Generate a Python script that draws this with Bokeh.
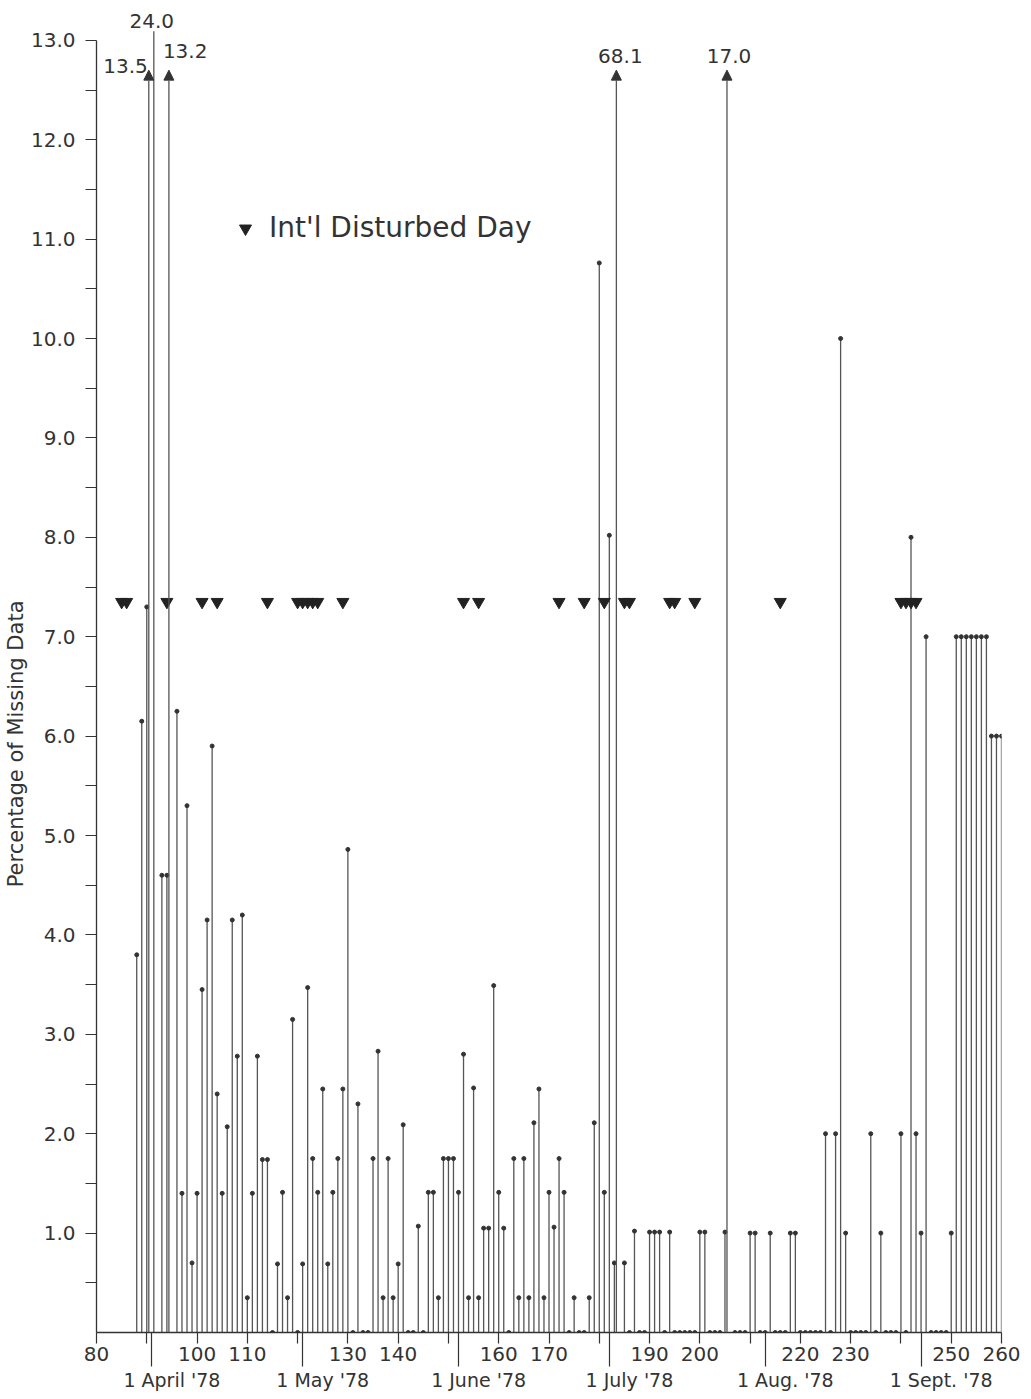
from bokeh.plotting import figure
from bokeh.models import (ColumnDataSource, FixedTicker, LinearAxis, Range1d,
                          Arrow, NormalHead, Legend, LegendItem)
from bokeh.embed import file_html
from bokeh.resources import INLINE
from bokeh.core.properties import value, field

# ---------------- data ----------------
first_day = 88   # day of year of the first plotted value
pct_missing = [
    3.80, 6.15, 7.30, 13.5, 24.0, 4.60, 4.60, 13.2, 6.25, 1.40,    # 88-97
    5.30, 0.70, 1.40, 3.45, 4.15, 5.90, 2.40, 1.40, 2.07, 4.15,    # 98-107
    2.78, 4.20, 0.35, 1.40, 2.78, 1.74, 1.74, 0.00, 0.69, 1.41,    # 108-117
    0.35, 3.15, 0.00, 0.69, 3.47, 1.75, 1.41, 2.45, 0.69, 1.41,    # 118-127
    1.75, 2.45, 4.86, 0.00, 2.30, 0.00, 0.00, 1.75, 2.83, 0.35,    # 128-137
    1.75, 0.35, 0.69, 2.09, 0.00, 0.00, 1.07, 0.00, 1.41, 1.41,    # 138-147
    0.35, 1.75, 1.75, 1.75, 1.41, 2.80, 0.35, 2.46, 0.35, 1.05,    # 148-157
    1.05, 3.49, 1.41, 1.05, 0.00, 1.75, 0.35, 1.75, 0.35, 2.11,    # 158-167
    2.45, 0.35, 1.41, 1.06, 1.75, 1.41, 0.00, 0.35, 0.00, 0.00,    # 168-177
    0.35, 2.11, 10.76, 1.41, 8.02, 0.70, 68.1, 0.70, 0.00, 1.02,   # 178-187
    0.00, 0.00, 1.01, 1.01, 1.01, 0.00, 1.01, 0.00, 0.00, 0.00,    # 188-197
    0.00, 0.00, 1.01, 1.01, 0.00, 0.00, 0.00, 1.01, 17.0, 0.00,    # 198-207
    0.00, 0.00, 1.00, 1.00, 0.00, 0.00, 1.00, 0.00, 0.00, 0.00,    # 208-217
    1.00, 1.00, 0.00, 0.00, 0.00, 0.00, 0.00, 2.00, 0.00, 2.00,    # 218-227
    10.0, 1.00, 0.00, 0.00, 0.00, 0.00, 2.00, 0.00, 1.00, 0.00,    # 228-237
    0.00, 0.00, 2.00, 0.00, 8.00, 2.00, 1.00, 7.00, 0.00, 0.00,    # 238-247
    0.00, 0.00, 1.00, 7.00, 7.00, 7.00, 7.00, 7.00, 7.00, 7.00,    # 248-257
    6.00, 6.00, 6.00,                                              # 258-260
]
disturbed_days = [85, 86, 94, 101, 104, 114, 120, 121, 122, 123, 124, 129,
                  153, 156, 172, 177, 181, 185, 186, 194, 195, 199,
                  216, 240, 241, 242, 243]
x_tick_values = [80, 90, 100, 110, 120, 130, 140, 150, 160, 170, 180,
                 190, 200, 210, 220, 230, 240, 250, 260]
x_tick_unlabelled = [90, 120, 150, 180, 210, 240]
month_start_days = [91, 121, 152, 182, 213, 244]
month_labels = ["1 April '78", "1 May '78", "1 June '78",
                "1 July '78", "1 Aug. '78", "1 Sept. '78"]
y_tick_values = [0.5, 1.0, 1.5, 2.0, 2.5, 3.0, 3.5, 4.0, 4.5, 5.0, 5.5, 6.0, 6.5,
                 7.0, 7.5, 8.0, 8.5, 9.0, 9.5, 10.0, 10.5, 11.0, 11.5, 12.0, 12.5, 13.0]
legend_label = "Int'l Disturbed Day"
y_title = "Percentage of Missing Data"

# ---------------- styles ----------------
FONT = "DejaVu Sans"
INK = "#333333"
STEM = "#555555"
Y_MAX = 13.0          # scale top; larger values are drawn as arrows
ARROW_TIP = 12.7
LONG_LINE_TOP = 13.09
MARKER_ROW = 7.35
MONTH_LABEL_SHIFT = 4
OVER_SHIFT = -0.6     # off-scale arrows were drawn slightly left of their day
# per off-scale value: has arrow head, label align, label offsets (px)
over_head = [True, False, True, True, True]
over_align = ["right", "center", "left", "center", "center"]
over_xoff = [-1, -2, -6, 4, 2]
over_yoff = [-4, -49, -19, -14, -14]
# y-title is set lower than the frame centre in the original
Y_TITLE_PAD = "\u00a0" * 22

days = list(range(first_day, first_day + len(pct_missing)))

p = figure(frame_width=905, frame_height=1324,
           x_range=Range1d(80, 260), y_range=Range1d(0, 13.32),
           output_backend="svg", toolbar_location=None,
           min_border_left=89, min_border_right=20,
           min_border_top=8, min_border_bottom=0)
p.grid.visible = False
p.outline_line_color = None

# in-range stems
in_days = [d for d, v in zip(days, pct_missing) if v <= Y_MAX]
in_vals = [v for v in pct_missing if v <= Y_MAX]
src_in = ColumnDataSource(dict(day=in_days, pct=in_vals, base=[0.0] * len(in_days)))
p.segment(x0="day", y0="base", x1="day", y1="pct", source=src_in,
          line_color=STEM, line_width=1.3)
p.scatter(x="day", y="pct", source=src_in, marker="circle", size=4,
          fill_color=INK, line_color=INK)

# off-scale stems
over_days = [d for d, v in zip(days, pct_missing) if v > Y_MAX]
over_vals = [v for v in pct_missing if v > Y_MAX]
over_x = [d + OVER_SHIFT for d in over_days]
head_src = ColumnDataSource(dict(
    x=[x for x, h in zip(over_x, over_head) if h],
    y0=[0.0 for h in over_head if h],
    y1=[ARROW_TIP for h in over_head if h]))
p.add_layout(Arrow(end=NormalHead(size=10, fill_color=INK, line_color=INK, line_width=1),
                   x_start="x", y_start="y0", x_end="x", y_end="y1",
                   source=head_src, line_color=STEM, line_width=1.3))
line_src = ColumnDataSource(dict(
    x=[x for x, h in zip(over_x, over_head) if not h],
    y0=[0.0 for h in over_head if not h],
    y1=[LONG_LINE_TOP for h in over_head if not h]))
p.segment(x0="x", y0="y0", x1="x", y1="y1", source=line_src,
          line_color=STEM, line_width=1.3)
lab_src = ColumnDataSource(dict(
    x=over_x, tip=[ARROW_TIP] * len(over_days),
    label=[f"{v:.1f}" for v in over_vals],
    align=over_align, xo=over_xoff, yo=over_yoff))
p.text(x="x", y="tip", text="label", source=lab_src,
       text_align=field("align"), x_offset="xo", y_offset="yo",
       text_baseline="middle", text_font=value(FONT),
       text_font_size="20px", text_color=INK)

# disturbed days
dd_src = ColumnDataSource(dict(day=disturbed_days, level=[MARKER_ROW] * len(disturbed_days)))
tri = p.scatter(x="day", y="level", source=dd_src, marker="inverted_triangle",
                size=12, fill_color="#222222", line_color="#222222")
legend = Legend(items=[LegendItem(label=legend_label, renderers=[tri])],
                location=(134, 1088), orientation="vertical",
                glyph_width=30, glyph_height=30, label_standoff=9,
                padding=0, margin=0, border_line_color=None,
                background_fill_alpha=0,
                label_text_font=FONT, label_text_font_size="28px",
                label_text_color=INK, label_height=30)
p.add_layout(legend)

# y axis
ya = p.yaxis[0]
ya.ticker = FixedTicker(ticks=y_tick_values)
ya.major_label_overrides = {t: (f"{t:.1f}" if t == int(t) else "") for t in y_tick_values}
ya.bounds = (0, Y_MAX)
ya.major_tick_out = 11
ya.major_tick_in = 0
ya.minor_tick_line_color = None
ya.major_label_standoff = 10
ya.axis_label = y_title + Y_TITLE_PAD
ya.axis_label_standoff = 0
ya.axis_label_text_font = FONT
ya.axis_label_text_font_style = "normal"
ya.axis_label_text_font_size = "21px"
ya.axis_label_text_color = INK
ya.major_label_text_font = FONT
ya.major_label_text_font_size = "20px"
ya.major_label_text_color = INK
ya.axis_line_color = INK
ya.axis_line_width = 1.3
ya.major_tick_line_color = INK
ya.major_tick_line_width = 1.2

# x axis (day numbers, with long ticks at month starts)
xa = p.xaxis[0]
xa.ticker = FixedTicker(ticks=x_tick_values, minor_ticks=month_start_days)
xa.major_label_overrides = {t: "" for t in x_tick_unlabelled}
xa.bounds = (80, 260)
xa.major_tick_out = 11
xa.major_tick_in = 0
xa.minor_tick_out = 34
xa.minor_tick_in = 0
xa.major_label_standoff = -20
xa.major_label_text_font = FONT
xa.major_label_text_font_size = "20px"
xa.major_label_text_color = INK
xa.axis_line_color = INK
xa.axis_line_width = 1.3
xa.major_tick_line_color = INK
xa.major_tick_line_width = 1.2
xa.minor_tick_line_color = INK
xa.minor_tick_line_width = 1.2

# month axis
month_ticks = [m + MONTH_LABEL_SHIFT for m in month_start_days]
month_axis = LinearAxis(ticker=FixedTicker(ticks=month_ticks),
                        major_label_overrides={t: lab for t, lab in zip(month_ticks, month_labels)})
month_axis.axis_line_color = None
month_axis.major_tick_line_color = None
month_axis.minor_tick_line_color = None
month_axis.major_tick_out = 0
month_axis.major_tick_in = 0
month_axis.major_label_standoff = 5
month_axis.major_label_text_font = FONT
month_axis.major_label_text_font_size = "19px"
month_axis.major_label_text_color = INK
p.add_layout(month_axis, "below")

open("out.html", "w").write(file_html(p, INLINE))
